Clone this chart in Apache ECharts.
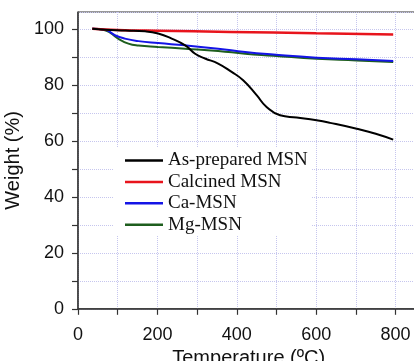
<!DOCTYPE html>
<html>
<head>
<meta charset="utf-8">
<script src="https://cdn.jsdelivr.net/npm/echarts@6/dist/echarts.min.js"></script>
<style>
  html, body { margin: 0; padding: 0; background: #fff; }
  #chart { width: 414px; height: 361px; }
</style>
</head>
<body>
<div id="chart"></div>
<script>
// TGA curves: [temperature (ºC), weight (%)]
const seriesNames = ['As-prepared MSN', 'Calcined MSN', 'Ca-MSN', 'Mg-MSN'];
const seriesColors = ['#000000', '#e8141c', '#1414e6', '#1e5e1e'];

const asPrepared = [
  [36, 100], [68, 99.7], [120, 99.4], [169, 99.1], [202, 98.3], [236, 96.5],
  [270, 94.1], [295, 91.1], [320, 89.4], [353, 87.6], [387, 84.6], [416, 81.6],
  [450, 76.3], [475, 72.1], [509, 69.1], [551, 68.3], [601, 67.3], [635, 66.4],
  [702, 64.3], [750, 62.5], [794, 60.4]
];
const calcined = [
  [36, 100], [100, 99.6], [200, 99.3], [383, 98.9], [600, 98.4], [794, 98.0]
];
const caMsn = [
  [36, 100], [68, 99.7], [93, 97.7], [118, 96.5], [152, 95.6], [202, 94.9],
  [270, 94.1], [353, 92.9], [421, 91.7], [492, 90.8], [601, 89.7], [702, 89.1],
  [794, 88.5]
];
const mgMsn = [
  [36, 100], [68, 99.5], [101, 96.5], [127, 94.7], [152, 94.0], [202, 93.5],
  [270, 92.9], [353, 92.1], [421, 91.1], [492, 90.4], [601, 89.3], [702, 88.7],
  [794, 88.1]
];
const seriesData = [asPrepared, calcined, caMsn, mgMsn];
const lineWidths = [2, 2.5, 2, 2];

const gridLine = { color: '#c6c6ee', type: 'dotted', width: 1 };
const sans = '"Liberation Sans", Arial, sans-serif';

const chart = echarts.init(document.getElementById('chart'));
chart.setOption({
  backgroundColor: '#fff',
  animation: false,
  grid: {
    left: 78,
    top: 12,
    width: 341.4,
    height: 296.8,
    containLabel: false,
    outerBoundsMode: 'none',
    show: true,
    borderColor: '#333',
    borderWidth: 1,
  },
  xAxis: {
    type: 'value',
    min: 0,
    max: 860,
    interval: 100,
    name: 'Temperature (ºC)',
    nameLocation: 'middle',
    nameGap: 38,
    nameTextStyle: { fontFamily: sans, fontSize: 20, color: '#111' },
    axisLine: { lineStyle: { color: '#333', width: 1.5 } },
    axisTick: { length: 6, lineStyle: { color: '#333', width: 1.2 } },
    axisLabel: {
      margin: 17,
      fontFamily: sans,
      fontSize: 18,
      color: '#111',
      showMaxLabel: false,
      formatter: (v) => (v % 200 === 0 && v <= 800 ? String(v) : ''),
    },
    splitLine: { show: true, lineStyle: gridLine },
  },
  yAxis: {
    type: 'value',
    min: 0,
    max: 106,
    interval: 10,
    name: 'Weight (%)',
    nameLocation: 'middle',
    nameGap: 53,
    nameTextStyle: { fontFamily: sans, fontSize: 20, color: '#111' },
    axisLine: { show: true, onZero: false, lineStyle: { color: '#333', width: 1.5 } },
    axisTick: { show: true, length: 6, lineStyle: { color: '#333', width: 1.2 } },
    axisLabel: {
      margin: 14,
      fontFamily: sans,
      fontSize: 18,
      color: '#111',
      showMaxLabel: false,
      formatter: (v) => (v % 20 === 0 && v <= 100 ? String(v) : ''),
    },
    splitLine: { show: true, lineStyle: gridLine },
  },
  legend: {
    orient: 'vertical',
    left: 114,
    top: 147,
    padding: [4, 4, 1, 11],
    backgroundColor: '#fff',
    icon: 'rect',
    itemWidth: 38,
    itemHeight: 2.5,
    itemGap: 2.4,
    textStyle: { fontFamily: '"Liberation Serif", "Times New Roman", serif', fontSize: 19, color: '#111' },
    data: seriesNames,
  },
  series: seriesNames.map((name, i) => ({
    name,
    type: 'line',
    data: seriesData[i],
    smooth: true,
    symbol: 'none',
    color: seriesColors[i],
    lineStyle: { color: seriesColors[i], width: lineWidths[i] },
    z: 4 - i,
  })),
});
</script>
</body>
</html>
